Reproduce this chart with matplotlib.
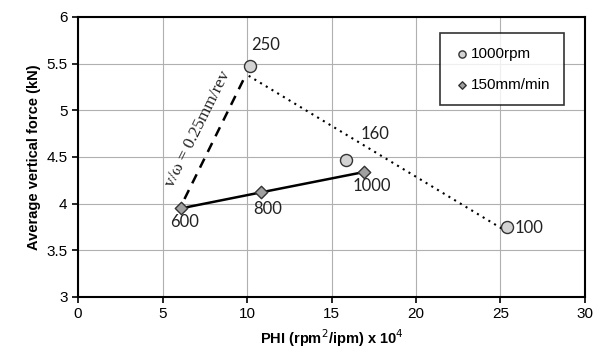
import matplotlib as mpl
mpl.use('Agg')
import matplotlib.pyplot as plt

plt.rcParams['font.family'] = ['Liberation Sans', 'DejaVu Sans']

# 1000rpm series (circles)
rpm_phi = [10.18, 15.86, 25.4]
rpm_force = [5.48, 4.47, 3.75]
rpm_labels = ['250', '160', '100']

# 150mm/min series (diamonds)
feed_phi = [6.1, 10.8, 16.95]
feed_force = [3.95, 4.12, 4.34]
feed_labels = ['600', '800', '1000']

# trend guide lines
dot_x = [10.1, 25.2]
dot_y = [5.37, 3.72]
dash_x = [6.3, 9.85]
dash_y = [4.05, 5.35]

fig = plt.figure(figsize=(6.02, 3.48), dpi=100)
ax = fig.add_axes([78 / 602, 1 - 297 / 348, (585 - 78) / 602, (297 - 17) / 348])

ax.grid(True, color='#b0b0b0', linewidth=0.8)
ax.set_axisbelow(True)

ax.plot(dot_x, dot_y, color='black', linestyle=(0, (1, 2.2)), linewidth=1.5)
ax.plot(dash_x, dash_y, color='black', linestyle=(0, (4, 3)), linewidth=1.8)
ax.plot(feed_phi, feed_force, color='black', linewidth=1.8)

ax.scatter(rpm_phi, rpm_force, s=75, marker='o', facecolor='#d3d3d3',
           edgecolor='#333333', linewidth=1.0, zorder=5, label='1000rpm')
ax.scatter(feed_phi, feed_force, s=40, marker='D', facecolor='#a0a0a0',
           edgecolor='#333333', linewidth=1.0, zorder=5, label='150mm/min')

# data labels
lab_font = dict(fontsize=12, family=['Lato', 'DejaVu Sans'], color='#222222')
ax.text(11.1, 5.7, rpm_labels[0], ha='center', va='center', **lab_font)
ax.text(17.6, 4.75, rpm_labels[1], ha='center', va='center', **lab_font)
ax.text(26.7, 3.74, rpm_labels[2], ha='center', va='center', **lab_font)
ax.text(6.33, 3.80, feed_labels[0], ha='center', va='center', **lab_font)
ax.text(11.2, 3.94, feed_labels[1], ha='center', va='center', **lab_font)
ax.text(17.4, 4.19, feed_labels[2], ha='center', va='center', **lab_font)

ax.text(7.1, 4.8, 'v/ω = 0.25mm/rev', rotation=63.5, ha='center', va='center',
        fontsize=12.5, family=['Liberation Serif', 'DejaVu Serif'], color='#222222')

ax.set_xlim(0, 30)
ax.set_ylim(3, 6)
ax.set_xticks(range(0, 31, 5))
ax.set_yticks([3, 3.5, 4, 4.5, 5, 5.5, 6])
ax.set_yticklabels(['3', '3.5', '4', '4.5', '5', '5.5', '6'])
ax.tick_params(labelsize=11, direction='out', length=4, width=1.2)
for s in ax.spines.values():
    s.set_linewidth(1.5)

ax.set_xlabel('PHI (rpm$^2$/ipm) x 10$^4$', fontsize=10.5, fontweight='bold')
ax.set_ylabel('Average vertical force (kN)', fontsize=10.5, fontweight='bold')

leg = ax.legend(loc='upper right', bbox_to_anchor=(0.9586, 0.943), borderaxespad=0,
                fontsize=11, frameon=True, fancybox=False, edgecolor='black',
                handletextpad=0.1, borderpad=0.9, labelspacing=1.1, markerscale=0.6,
                handlelength=1.0)
leg.get_frame().set_linewidth(1.2)

fig.savefig('out.png', dpi=100)
